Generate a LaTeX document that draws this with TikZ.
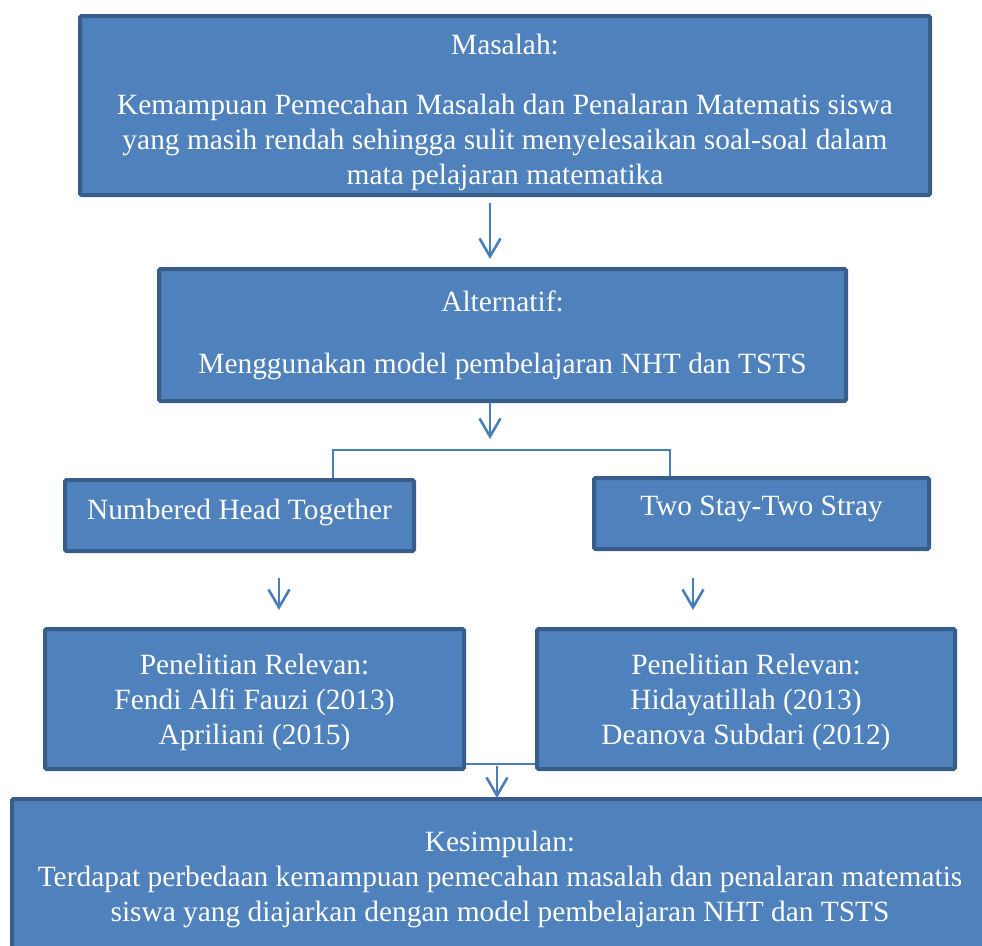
\documentclass[tikz,border=0pt]{standalone}
\usepackage{fontspec}
\setmainfont{Liberation Serif}
\usetikzlibrary{arrows.meta}
\definecolor{boxfill}{HTML}{4F81BD}
\definecolor{boxline}{HTML}{385D8A}
\definecolor{arrcol}{HTML}{4A7EBB}
\tikzset{
  box/.style={draw=boxline, fill=boxfill, line width=4pt, rounded corners=1.5pt,
    text=white, align=center, inner sep=0pt,
    font=\fontsize{29.4}{35}\selectfont},
  arr/.style={draw=arrcol, line width=2.6pt,
    -{Straight Barb[length=18pt,width=21pt,line width=2.6pt]}},
  branch/.style={draw=arrcol, line width=1.8pt}
}
\begin{document}
\begin{tikzpicture}[x=1pt,y=-1pt]
\useasboundingbox (0,0) rectangle (982,945);
\node[box, minimum width=850pt, minimum height=179pt] (masalah) at (505,105.5)
  {\rule{0pt}{34pt}Masalah:\\[25pt]
   Kemampuan Pemecahan Masalah dan Penalaran Matematis siswa\\
   yang masih rendah sehingga sulit menyelesaikan soal-soal dalam\\
   mata pelajaran matematika};
\node[box, minimum width=687pt, minimum height=132pt] (alt) at (502.5,335)
  {Alternatif:\\[27pt]
   Menggunakan model pembelajaran NHT dan TSTS};
\node[box, minimum width=349pt, minimum height=71pt] (nht) at (239.5,515.5)
  {Numbered Head Together\rule[-12.5pt]{0pt}{0pt}};
\node[box, minimum width=335pt, minimum height=71pt] (tsts) at (761.5,513.5)
  {Two Stay-Two Stray\rule[-14.5pt]{0pt}{0pt}};
\node[box, minimum width=419pt, minimum height=140pt] (pl) at (254.5,699)
  {\rule{0pt}{28pt}Penelitian Relevan:\\ Fendi Alfi Fauzi (2013)\\ Apriliani (2015)};
\node[box, minimum width=418pt, minimum height=140pt] (pr) at (746,699)
  {\rule{0pt}{28pt}Penelitian Relevan:\\ Hidayatillah (2013)\\ Deanova Subdari (2012)};
\node[box, minimum width=976pt, minimum height=156pt] (kes) at (500,877)
  {\rule{0pt}{26pt}Kesimpulan:\\
   Terdapat perbedaan kemampuan pemecahan masalah dan penalaran matematis\\
   siswa yang diajarkan dengan model pembelajaran NHT dan TSTS};
% arrow ends
\coordinate (a1s) at (490,203);
\coordinate (a1e) at (490,259);
\coordinate (a2s) at (490,402);
\coordinate (a2e) at (490,439);
\coordinate (bl) at (333,450);
\coordinate (br) at (670,450);
\coordinate (a3s) at (279,578);
\coordinate (a3e) at (279,610);
\coordinate (a4s) at (693,578);
\coordinate (a4e) at (693,610);
\coordinate (a5s) at (497,766);
\coordinate (a5e) at (497,798);
\draw[arr] (a1s) -- (a1e);
\draw[arr] (a2s) -- (a2e);
\draw[branch] (nht.north -| bl) -- (bl) -- (br) -- (tsts.north -| br);
\draw[arr] (a3s) -- (a3e);
\draw[arr] (a4s) -- (a4e);
\draw[branch] (pl.east |- 0,764) -- (pr.west |- 0,764);
\draw[arr] (a5s) -- (a5e);
\end{tikzpicture}
\end{document}
